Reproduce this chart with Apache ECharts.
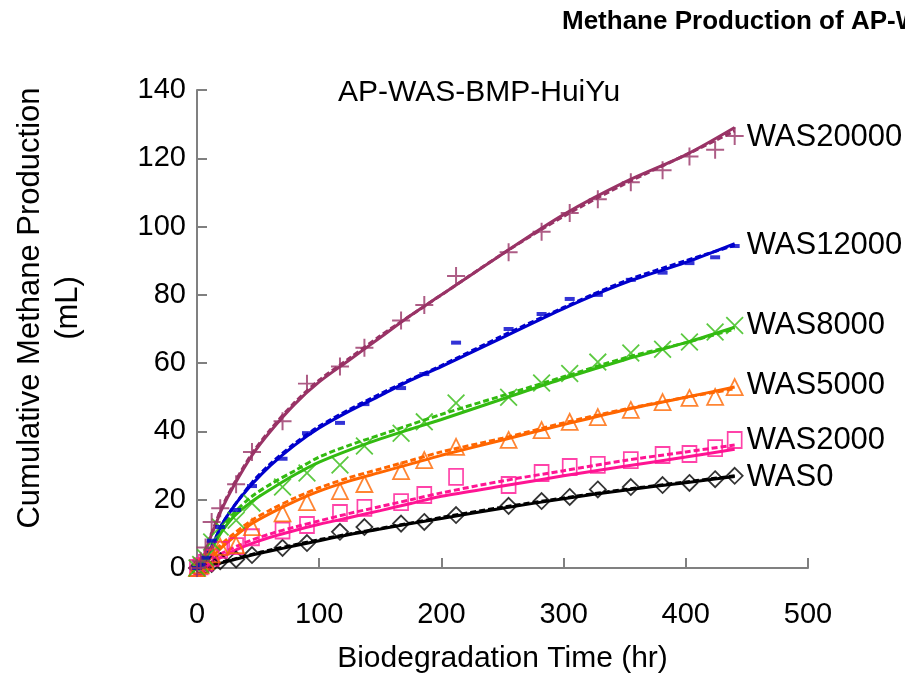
<!DOCTYPE html>
<html>
<head>
<meta charset="utf-8">
<title>Methane Production of AP-WAS</title>
<script src="https://cdn.jsdelivr.net/npm/echarts@6/dist/echarts.min.js"></script>
<style>
  html, body { margin: 0; padding: 0; background: #fff; }
  #chart { width: 905px; height: 677px; }
</style>
</head>
<body>
<div id="chart"></div>
<script>
// Sampling times of the measured data (hr)
const sampleTimes = [0, 3, 7, 12, 19, 32, 45, 70, 90, 117, 137, 167, 186, 212, 255, 282, 305, 328, 355, 381, 403, 424, 440];

// Measured cumulative methane (mL)
const was20000 = [0, 2, 6, 13.5, 17.5, 24.5, 34, 43, 54, 59, 64.5, 72.5, 77, 85.5, 92.5, 98.5, 104, 108, 113, 116.5, 120.5, 122.5, 126.5];
const was12000 = [0, 1, 3, 8, 12, 17, 24, 32, 39.5, 42.5, 48, 52.7, 56.8, 66, 70, 74.4, 78.8, 80, 84.4, 86.5, 89.3, 91, 94.3];
const was8000  = [0, 1, 3, 7.6, 12, 14, 19, 23.7, 27.8, 30.2, 35.7, 39.5, 42.8, 48.3, 50, 54.2, 57, 60.3, 63, 64.1, 66.2, 69.1, 71];
const was5000  = [0, 0.8, 2, 4, 6.2, 6.7, 12, 16, 19.3, 22.5, 24.6, 28.4, 31.6, 35.5, 37.5, 40.4, 42.8, 44.2, 46.3, 48.6, 49.8, 50.1, 53];
const was2000  = [0, 0.5, 1.5, 3, 5.3, 6.4, 9, 11, 12.6, 16.1, 17.6, 19.3, 21.4, 26.7, 24.3, 27.8, 29.6, 30.2, 31.6, 33.1, 33.4, 35.1, 37.5];
const was0     = [0, 0.3, 0.8, 1.2, 2, 2.5, 3.8, 5.9, 7.3, 10.6, 12, 13, 13.5, 15.5, 18.2, 19.6, 20.8, 23, 23.7, 24.3, 24.9, 26, 27];

// Times at which the fitted curves are evaluated (hr)
const fitTimes = [0, 5, 10, 15, 20, 30, 45, 60, 80, 100, 125, 150, 175, 200, 250, 300, 350, 400, 440];

// Model fit (solid curves)
const fitA20000 = [0, 3, 8, 12.5, 17, 24, 33, 40, 48, 54.5, 61, 67.5, 74, 80, 92, 103.5, 113, 121, 129];
const fitA12000 = [0, 2, 5, 8.5, 12.5, 18, 24.5, 30, 36, 41, 46, 50.5, 55, 59, 67.5, 76, 83.5, 89.5, 95];
const fitA8000  = [0, 2, 4.5, 7.5, 10.5, 15, 19.5, 23, 27.3, 31, 34.6, 37.8, 40.7, 43.5, 49.5, 55.5, 61, 66, 70.5];
const fitA5000  = [0, 1, 2.5, 4.2, 6, 9, 13, 16, 19.5, 22.5, 25.5, 28, 30.5, 33, 37.5, 42, 46.3, 50, 53];
const fitA2000  = [0, 0.5, 1.3, 2.3, 3.2, 5, 7.2, 9, 11, 12.8, 14.8, 16.8, 18.9, 21, 24, 27, 29.8, 32.5, 34.8];
const fitA0     = [0, 0.3, 0.7, 1.1, 1.5, 2.4, 3.8, 5, 6.5, 8, 9.8, 11.4, 13, 14.5, 17.5, 20.3, 22.8, 25, 26.8];

// Alternative model fit (dashed curves)
const fitB20000 = [0, 3.5, 8.5, 13, 17.5, 24.5, 33.5, 40.5, 48.5, 55, 61.5, 68, 74, 80, 92, 103, 112.5, 121, 128];
const fitB12000 = [0, 2, 5, 8.5, 12.5, 18, 25, 30.5, 36.5, 41.5, 46.5, 51, 55.3, 59.3, 68, 76.3, 84, 90, 94.5];
const fitB8000  = [0, 2.5, 5.5, 8.5, 11.5, 16, 21, 24.5, 28.5, 32.5, 36, 39, 42, 45, 50.5, 56, 61.5, 66, 70];
const fitB5000  = [0, 1.2, 3, 5, 7, 10, 14, 17, 20.5, 23.5, 26.5, 29, 31.5, 34, 38, 42.5, 46.5, 50, 52.5];
const fitB2000  = [0, 0.8, 1.8, 3, 4.2, 6, 8.2, 10, 12, 13.8, 16, 18, 20, 22, 25.5, 28.5, 31.5, 34, 36];
const fitB0     = [0, 0.4, 0.8, 1.2, 1.7, 2.6, 4, 5.3, 6.8, 8.3, 10, 11.6, 13.2, 14.8, 17.8, 20.5, 23, 25.2, 27];

const seriesNames = ['WAS20000', 'WAS12000', 'WAS8000', 'WAS5000', 'WAS2000', 'WAS0'];
const xTicks = [0, 100, 200, 300, 400, 500];
const yTicks = [0, 20, 40, 60, 80, 100, 120, 140];

const FONT = 'Liberation Sans, Arial, sans-serif';

// Marker glyphs
const PLUS = 'path://M4.45,0H5.55V4.45H10V5.55H5.55V10H4.45V5.55H0V4.45H4.45Z';
const CROSS = 'path://M0.7,0L5,4.3L9.3,0L10,0.7L5.7,5L10,9.3L9.3,10L5,5.7L0.7,10L0,9.3L4.3,5L0,0.7Z';

const groups = [
  { name: seriesNames[0], data: was20000, fitA: fitA20000, fitB: fitB20000, color: '#993366', symbol: PLUS, size: 18, filled: true, labelOffset: [4, 10] },
  { name: seriesNames[1], data: was12000, fitA: fitA12000, fitB: fitB12000, color: '#0000CC', symbol: 'rect', size: [10, 4], filled: true, labelOffset: [4, 2] },
  { name: seriesNames[2], data: was8000,  fitA: fitA8000,  fitB: fitB8000,  color: '#33BB11', symbol: CROSS, size: 18, filled: true, labelOffset: [4, -2] },
  { name: seriesNames[3], data: was5000,  fitA: fitA5000,  fitB: fitB5000,  color: '#FF6600', symbol: 'triangle', size: 16, filled: false, labelOffset: [4, -2] },
  { name: seriesNames[4], data: was2000,  fitA: fitA2000,  fitB: fitB2000,  color: '#FF1493', symbol: 'rect', size: [14, 16], filled: false, labelOffset: [4, -9] },
  { name: seriesNames[5], data: was0,     fitA: fitA0,     fitB: fitB0,     color: '#000000', symbol: 'diamond', size: 16, filled: false, labelOffset: [4, 1] }
];

const pairs = (xs, ys) => xs.map((x, i) => [x, ys[i]]);

const series = [];
// lower groups first so the higher curves sit on top
groups.slice().reverse().forEach(g => {
  series.push({
    name: g.name + ' fit2',
    type: 'line',
    data: pairs(fitTimes, g.fitB),
    smooth: 0.3,
    symbol: 'none',
    lineStyle: { color: g.color, width: 3, type: [6, 3] },
    z: 2
  });
  series.push({
    name: g.name + ' fit',
    type: 'line',
    data: pairs(fitTimes, g.fitA),
    smooth: 0.3,
    symbol: 'none',
    lineStyle: { color: g.color, width: 3 },
    endLabel: {
      show: true,
      formatter: g.name,
      color: '#000',
      fontFamily: FONT,
      fontSize: 31,
      offset: g.labelOffset
    },
    z: 3
  });
  series.push({
    name: g.name,
    type: 'scatter',
    data: pairs(sampleTimes, g.data),
    symbol: g.symbol,
    symbolSize: g.size,
    itemStyle: g.filled
      ? { color: g.color }
      : { color: 'rgba(255,255,255,0)', borderColor: g.color, borderWidth: 1.8 },
    z: 4
  });
});

const chart = echarts.init(document.getElementById('chart'), null, { renderer: 'canvas' });
chart.setOption({
  animation: false,
  backgroundColor: '#ffffff',
  textStyle: { fontFamily: FONT },
  title: [
    {
      text: 'Methane Production of AP-WAS',
      left: 557,
      top: 4,
      textStyle: { fontFamily: FONT, fontSize: 26, fontWeight: 'bold', color: '#000' }
    },
    {
      text: 'AP-WAS-BMP-HuiYu',
      left: 333,
      top: 73,
      textStyle: { fontFamily: FONT, fontSize: 30, fontWeight: 'normal', color: '#000' }
    }
  ],
  graphic: [
    {
      type: 'text',
      x: 49,
      y: 308,
      rotation: Math.PI / 2,
      style: {
        text: 'Cumulative Methane Production\n(mL)',
        fontFamily: FONT,
        fontSize: 31,
        lineHeight: 38,
        fill: '#000',
        align: 'center',
        verticalAlign: 'middle'
      }
    }
  ],
  grid: { left: 197, right: 97, top: 90, bottom: 109, containLabel: false, outerBoundsMode: 'none' },
  xAxis: {
    type: 'value',
    min: xTicks[0],
    max: xTicks[xTicks.length - 1],
    interval: 100,
    name: 'Biodegradation Time (hr)',
    nameLocation: 'middle',
    nameGap: 76,
    nameTextStyle: { fontFamily: FONT, fontSize: 30, color: '#000' },
    axisLine: { show: true, onZero: false, lineStyle: { color: '#808080', width: 2 } },
    axisTick: { show: true, inside: true, length: 10, lineStyle: { color: '#808080', width: 2 } },
    axisLabel: { fontFamily: FONT, fontSize: 29, color: '#000', margin: 32 },
    splitLine: { show: false }
  },
  yAxis: {
    type: 'value',
    min: yTicks[0],
    max: yTicks[yTicks.length - 1],
    interval: 20,
    axisLine: { show: true, lineStyle: { color: '#808080', width: 2 } },
    axisTick: { show: true, inside: true, length: 10, lineStyle: { color: '#808080', width: 2 } },
    axisLabel: { fontFamily: FONT, fontSize: 29, color: '#000', margin: 11 },
    splitLine: { show: false }
  },
  series: series
});
</script>
</body>
</html>
